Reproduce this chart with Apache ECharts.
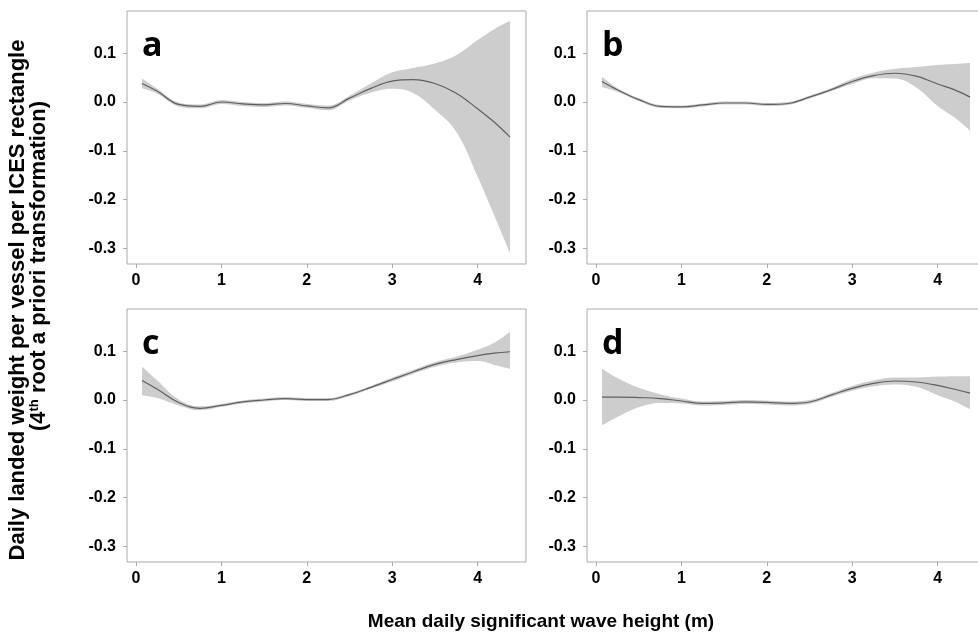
<!DOCTYPE html>
<html>
<head>
<meta charset="utf-8">
<script src="https://cdn.jsdelivr.net/npm/echarts@6/dist/echarts.min.js"></script>
<style>
html,body{margin:0;padding:0;background:#fff}
#main{width:978px;height:638px}
</style>
</head>
<body>
<div id="main"></div>
<script>
// wave height (m) at which the curves were read
var xs = [0.07, 0.25, 0.5, 0.75, 1.0, 1.25, 1.5, 1.75, 2.0, 2.25, 2.5, 2.75, 3.0, 3.25, 3.5, 3.75, 4.0, 4.2, 4.38];

// panel a
var fitA = [0.038, 0.022, -0.005, -0.009, 0.000, -0.004, -0.006, -0.003, -0.008, -0.012, 0.008, 0.028, 0.043, 0.046, 0.038, 0.018, -0.014, -0.042, -0.072];
var lowA = [0.028, 0.017, -0.009, -0.013, -0.004, -0.008, -0.010, -0.007, -0.012, -0.017, 0.003, 0.019, 0.027, 0.018, -0.016, -0.061, -0.153, -0.235, -0.310];
var upA  = [0.048, 0.027, -0.001, -0.005, 0.004, 0.000, -0.002, 0.001, -0.004, -0.007, 0.013, 0.038, 0.061, 0.070, 0.079, 0.096, 0.127, 0.150, 0.166];

// panel b
var fitB = [0.042, 0.025, 0.005, -0.009, -0.010, -0.006, -0.002, -0.002, -0.005, -0.003, 0.010, 0.025, 0.042, 0.054, 0.059, 0.053, 0.037, 0.025, 0.010];
var lowB = [0.031, 0.021, 0.002, -0.012, -0.013, -0.009, -0.005, -0.005, -0.008, -0.006, 0.007, 0.022, 0.037, 0.049, 0.048, 0.030, -0.008, -0.032, -0.059];
var upB  = [0.052, 0.029, 0.008, -0.006, -0.007, -0.003, 0.001, 0.001, -0.002, 0.000, 0.013, 0.028, 0.047, 0.060, 0.068, 0.072, 0.076, 0.078, 0.080];

// panel c
var fitC = [0.040, 0.022, -0.005, -0.017, -0.011, -0.004, 0.000, 0.003, 0.001, 0.001, 0.011, 0.026, 0.042, 0.058, 0.073, 0.083, 0.091, 0.096, 0.099];
var lowC = [0.010, 0.004, -0.011, -0.021, -0.014, -0.007, -0.003, 0.000, -0.002, -0.002, 0.008, 0.023, 0.038, 0.054, 0.068, 0.077, 0.080, 0.072, 0.064];
var upC  = [0.069, 0.040, 0.001, -0.013, -0.008, -0.001, 0.003, 0.006, 0.004, 0.004, 0.014, 0.029, 0.046, 0.062, 0.078, 0.089, 0.103, 0.118, 0.140];

// panel d
var fitD = [0.006, 0.006, 0.005, 0.003, -0.002, -0.007, -0.006, -0.004, -0.005, -0.007, -0.004, 0.010, 0.024, 0.034, 0.039, 0.037, 0.030, 0.022, 0.014];
var lowD = [-0.052, -0.035, -0.015, -0.006, -0.007, -0.011, -0.010, -0.008, -0.009, -0.011, -0.008, 0.006, 0.019, 0.028, 0.032, 0.027, 0.010, -0.003, -0.019];
var upD  = [0.064, 0.045, 0.025, 0.012, 0.003, -0.003, -0.002, 0.000, -0.001, -0.003, 0.000, 0.014, 0.029, 0.040, 0.046, 0.046, 0.048, 0.049, 0.049];

var panelNames = ['a', 'b', 'c', 'd'];
var fits = [fitA, fitB, fitC, fitD];
var lows = [lowA, lowB, lowC, lowD];
var ups = [upA, upB, upC, upD];

var xTickMin = 0, xTickMax = 4, xTickStep = 1;
var yTickMin = -0.3, yTickMax = 0.1, yTickStep = 0.1;

var yTitle1 = 'Daily landed weight per vessel per ICES rectangle';
var yTitle2 = '(4{sup|th} root a priori transformation)';
var xTitle = 'Mean daily significant wave height (m)';

// layout of the four plot boxes (px)
var boxLeft = [127, 587, 127, 587];
var boxTop = [11, 11, 309, 309];
var boxW = 399, boxH = 253;
var pxPerX = 85.4, pxPerY = 487.5;
var xMin = -9 / pxPerX, xMax = xMin + boxW / pxPerX;
var yMax = 0.1867, yMin = yMax - boxH / pxPerY;
var greyBase = yMin + 0.006;
var whiteBase = yMin + 0.002;

var labelFont = '"Liberation Sans", Arial, sans-serif';
var boxColor = '#aaaaaa';
var bandColor = '#cdcdcd';

function pairs(a) {
    var out = [];
    for (var i = 0; i < xs.length; i++) out.push([xs[i], a[i]]);
    return out;
}

var grids = [], xAxes = [], yAxes = [], series = [], graphics = [];

for (var i = 0; i < 4; i++) {
    var g = 3 * i;
    // plot box
    grids.push({left: boxLeft[i], top: boxTop[i], width: boxW, height: boxH,
        show: true, borderColor: boxColor, borderWidth: 1, backgroundColor: 'transparent',
        outerBoundsMode: 'none', containLabel: false});
    xAxes.push({gridIndex: g, type: 'value', min: xMin, max: xMax, show: false});
    yAxes.push({gridIndex: g, type: 'value', min: yMin, max: yMax, show: false});

    // x ticks
    grids.push({left: boxLeft[i] + (xTickMin - xMin) * pxPerX, top: boxTop[i],
        width: (xTickMax - xTickMin) * pxPerX, height: boxH, outerBoundsMode: 'none', containLabel: false});
    xAxes.push({gridIndex: g + 1, type: 'value', min: xTickMin, max: xTickMax, interval: xTickStep,
        axisLine: {show: false}, splitLine: {show: false},
        axisTick: {show: true, length: 4, lineStyle: {color: boxColor}},
        axisLabel: {margin: 9, color: '#000', fontSize: 16, fontWeight: 'bold', fontFamily: labelFont,
            showMinLabel: true, showMaxLabel: true}});
    yAxes.push({gridIndex: g + 1, type: 'value', min: 0, max: 1, show: false});

    // y ticks
    grids.push({left: boxLeft[i], top: boxTop[i] + (yMax - yTickMax) * pxPerY,
        width: boxW, height: (yTickMax - yTickMin) * pxPerY, outerBoundsMode: 'none', containLabel: false});
    xAxes.push({gridIndex: g + 2, type: 'value', min: 0, max: 1, show: false});
    yAxes.push({gridIndex: g + 2, type: 'value', min: yTickMin, max: yTickMax, interval: yTickStep,
        axisLine: {show: false}, splitLine: {show: false},
        axisTick: {show: true, length: 4, lineStyle: {color: boxColor}},
        axisLabel: {margin: 11, color: '#000', fontSize: 16, fontWeight: 'bold', fontFamily: labelFont,
            showMinLabel: true, showMaxLabel: true,
            formatter: function (v) { return Math.abs(v) < 1e-9 ? '0.0' : v.toFixed(1); }}});

    // confidence band: grey area under upper bound, white area under lower bound
    series.push({type: 'line', xAxisIndex: g, yAxisIndex: g, data: pairs(ups[i]), smooth: 0.4,
        symbol: 'none', silent: true, lineStyle: {width: 0, opacity: 0},
        areaStyle: {color: bandColor, opacity: 1, origin: greyBase}, z: 1});
    series.push({type: 'line', xAxisIndex: g, yAxisIndex: g, data: pairs(lows[i]), smooth: 0.4,
        symbol: 'none', silent: true, lineStyle: {width: 0, opacity: 0},
        areaStyle: {color: '#ffffff', opacity: 1, origin: whiteBase}, z: 2});
    // fitted curve
    series.push({type: 'line', xAxisIndex: g, yAxisIndex: g, data: pairs(fits[i]), smooth: 0.4,
        symbol: 'none', silent: true, lineStyle: {color: '#5f5f5f', width: 1.2}, z: 3});

    graphics.push({type: 'text', left: boxLeft[i] + 15, top: boxTop[i] + 18, z: 100,
        style: {text: panelNames[i], font: 'bold 34px "Open Sans", sans-serif', fill: '#000'}});
}

// axis titles
graphics.push({type: 'text', x: 18, y: 300, rotation: Math.PI / 2, z: 100,
    style: {text: yTitle1, font: 'bold 22px ' + labelFont, fill: '#000', align: 'center', verticalAlign: 'middle'}});
graphics.push({type: 'text', x: 39, y: 266, rotation: Math.PI / 2, z: 100,
    style: {text: yTitle2, font: 'bold 22px ' + labelFont, fill: '#000',
        align: 'center', verticalAlign: 'middle',
        rich: {sup: {fontSize: 13, fontWeight: 'bold', fontFamily: labelFont, verticalAlign: 'top', padding: [0, 0, 9, 0]}}}});
graphics.push({type: 'text', x: 541, y: 622, z: 100,
    style: {text: xTitle, font: 'bold 19px ' + labelFont, fill: '#000', align: 'center', verticalAlign: 'middle'}});

var chart = echarts.init(document.getElementById('main'));
chart.setOption({
    animation: false,
    grid: grids,
    xAxis: xAxes,
    yAxis: yAxes,
    series: series,
    graphic: graphics
});
</script>
</body>
</html>
